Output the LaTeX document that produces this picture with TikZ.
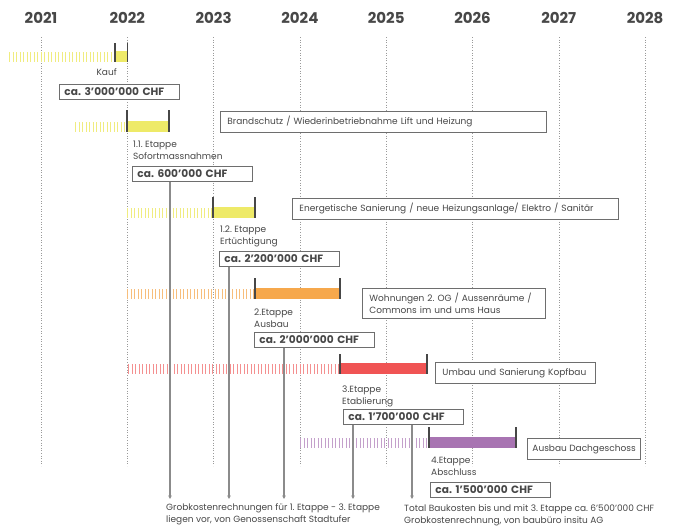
\documentclass[tikz,border=0pt]{standalone}
\usepackage{fontspec}
\setmainfont{Poppins}
\usetikzlibrary{positioning,arrows.meta}
\frenchspacing

\definecolor{ink}{HTML}{474747}
\definecolor{frame}{HTML}{6E6E6E}
\definecolor{gridc}{HTML}{9A9A9A}
\definecolor{yel}{HTML}{EEEA68}
\definecolor{yelL}{HTML}{F0EC80}
\definecolor{ora}{HTML}{F6A84C}
\definecolor{oraL}{HTML}{F7BE7C}
\definecolor{rd}{HTML}{F05454}
\definecolor{rdL}{HTML}{F49090}
\definecolor{pur}{HTML}{A874B2}
\definecolor{purL}{HTML}{C4A0CB}

\begin{document}
\begin{tikzpicture}[
    x=1pt, y=-1pt,
    font=\fontsize{9}{12}\selectfont, text=ink,
    year/.style={font=\fontsize{15}{17}\selectfont\bfseries},
    gridline/.style={draw=gridc, dotted, line width=0.6pt},
    hatch/.style={line width=10pt, dash pattern=on 1.2pt off 2.3pt},
    tick/.style={draw=ink, line width=1.1pt},
    stage/.style={anchor=north west, align=left, inner sep=0pt},
    desc/.style={draw=frame, line width=0.9pt, fill=white, anchor=north west,
                 align=left, inner xsep=7pt, inner ysep=2pt, minimum height=21pt},
    cost/.style={draw=frame, line width=0.9pt, fill=white, anchor=north west,
                 align=left, inner xsep=5pt, inner ysep=1pt, minimum height=15pt,
                 text width=110pt, font=\fontsize{10.6}{12}\selectfont\bfseries},
    note/.style={anchor=north west, align=left, inner sep=0pt},
    arr/.style={draw=gridc!90!black, line width=1.2pt,
                -{Triangle[length=3.5pt, width=3.5pt]}}
  ]
  \useasboundingbox (0,0) rectangle (678,528);

  % ---- years and grid ----
  \foreach \yr [count=\i from 0] in {2021,...,2028} {
    \node[year] (y\yr) at (41+86.3*\i, 18) {\yr};
    \draw[gridline] (41+86.3*\i, 37) -- (41+86.3*\i, 466);
  }

  % ---- Kauf ----
  \draw[hatch, draw=yelL] (9,56.5) -- (115,56.5);
  \fill[yel] (115,51) rectangle (127.5,62);
  \draw[tick] (115,43) -- (115,62);
  \draw[tick] (127.5,43) -- (127.5,62);
  \node[anchor=north east, inner sep=0pt] (s0) at (117,68) {Kauf};
  \node[cost] (c0) at (59,84) {ca. 3’000’000 CHF};

  % ---- 1.1. Etappe ----
  \draw[hatch, draw=yelL] (75,126.5) -- (127,126.5);
  \fill[yel] (127,121) rectangle (169,132);
  \draw[tick] (127,110) -- (127,132);
  \draw[tick] (169,110) -- (169,132);
  \node[desc, text width=312pt] (d11) at (220,111)
    {Brandschutz / Wiederinbetriebnahme Lift und Heizung};
  \node[stage] (s11) at (133,141) {1.1. Etappe\\Sofortmassnahmen};
  \node[cost] (c11) at (132,166) {ca. 600’000 CHF};

  % ---- 1.2. Etappe ----
  \draw[hatch, draw=yelL] (127,212.5) -- (213,212.5);
  \fill[yel] (213,207) rectangle (255,218);
  \draw[tick] (213,197) -- (213,218);
  \draw[tick] (255,197) -- (255,218);
  \node[desc, text width=312pt] (d12) at (292,198)
    {Energetische Sanierung / neue Heizungsanlage/ Elektro / Sanitär};
  \node[stage] (s12) at (220,226) {1.2. Etappe\\Ertüchtigung};
  \node[cost] (c12) at (219,251) {ca. 2’200’000 CHF};

  % ---- 2. Etappe ----
  \draw[hatch, draw=oraL] (127,293.5) -- (255,293.5);
  \fill[ora] (255,288) rectangle (340,299);
  \draw[tick] (255,278) -- (255,299);
  \draw[tick] (340,278) -- (340,299);
  \node[desc, text width=169pt, minimum height=30pt] (d2) at (362,288)
    {Wohnungen 2. OG / Aussenräume /\\Commons im und ums Haus};
  \node[stage] (s2) at (254,308.5) {2.Etappe\\Ausbau};
  \node[cost] (c2) at (254,332) {ca. 2’000’000 CHF};

  % ---- 3. Etappe ----
  \draw[hatch, draw=rdL] (128,368.5) -- (340,368.5);
  \fill[rd] (340,363) rectangle (427,374);
  \draw[tick] (340,354) -- (340,374);
  \draw[tick] (427,354) -- (427,374);
  \node[desc, text width=146pt] (d3) at (435,362) {Umbau und Sanierung Kopfbau};
  \node[stage] (s3) at (342,385.5) {3.Etappe\\Etablierung};
  \node[cost] (c3) at (343,409) {ca. 1’700’000 CHF};

  % ---- 4. Etappe ----
  \draw[hatch, draw=purL] (300,442.5) -- (429,442.5);
  \fill[pur] (429,437) rectangle (516,448);
  \draw[tick] (429,427) -- (429,448);
  \draw[tick] (516,427) -- (516,448);
  \node[desc, inner xsep=5pt, minimum width=111pt] (d4) at (527,438)
    {Ausbau Dachgeschoss};
  \node[stage] (s4) at (431,456.5) {4.Etappe\\Abschluss};
  \node[cost] (c4) at (430,482) {ca. 1’500’000 CHF};

  % ---- notes and cost arrows ----
  \node[note] (n1) at (166,503.5)
    {Grobkostenrechnungen für 1. Etappe - 3. Etappe\\liegen vor, von Genossenschaft Stadtufer};
  \node[note] (n2) at (404,504.5)
    {Total Baukosten bis und mit 3. Etappe ca. 6’500’000 CHF\\Grobkostenrechnung, von baubüro insitu AG};

  \coordinate (a11) at (170,499);
  \coordinate (a12) at (229,499);
  \coordinate (a2)  at (284,499);
  \coordinate (a3)  at (353,499);
  \coordinate (at)  at (412,499);
  \draw[arr] (c11.south -| a11) -- (a11);
  \draw[arr] (c12.south -| a12) -- (a12);
  \draw[arr] (c2.south -| a2) -- (a2);
  \draw[arr] (c3.south -| a3) -- (a3);
  \draw[arr] (c3.south -| at) -- (at);

\end{tikzpicture}
\end{document}
